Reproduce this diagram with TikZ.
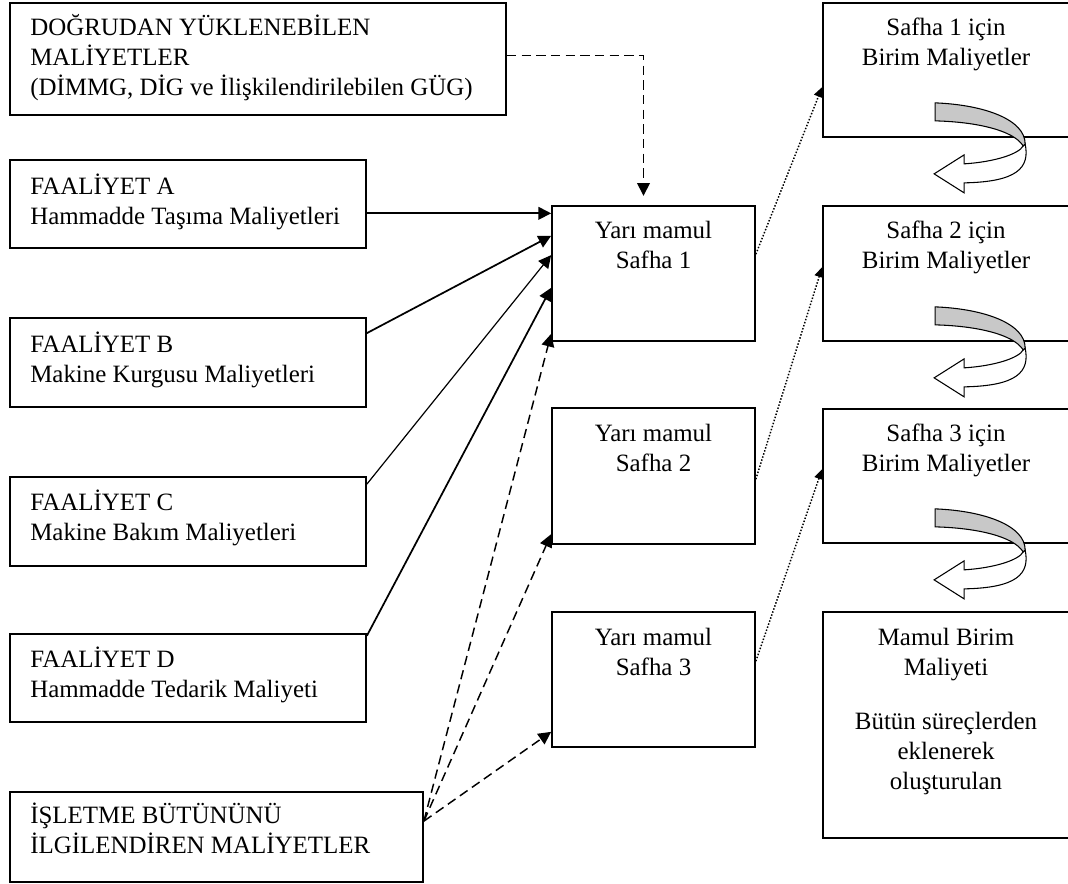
\documentclass[tikz,border=0pt]{standalone}
\usepackage{fontspec}
\setmainfont{Liberation Serif}
\usetikzlibrary{arrows.meta,fit}
\definecolor{bandgray}{RGB}{200,200,200}
% strut that fixes the height of a text block's first line
\newcommand\firstline{\rule{0pt}{18pt}}
\begin{document}
\begin{tikzpicture}[x=0.75pt,y=-0.75pt,
  box/.style={draw, line width=1.3pt, inner sep=0pt},
  txt/.style={inner sep=0pt, font=\fontsize{18.7pt}{22.5pt}\selectfont},
  ltxt/.style={txt, anchor=north west, align=left},
  ctxt/.style={txt, anchor=north, align=center},
  solidarr/.style={-{Triangle[length=9.5pt,width=9.5pt]}, line width=1.3pt},
  thinarr/.style={-{Triangle[length=9.5pt,width=9.5pt]}, line width=0.9pt},
  dasharr/.style={-{Triangle[length=9.5pt,width=9.5pt]}, line width=1.1pt, dash pattern=on 7pt off 4pt},
  dotarr/.style={-{Triangle[length=7.5pt,width=7pt]}, line width=1.1pt, dash pattern=on 1.1pt off 1.3pt},
  uturn/.pic={
    % white returning shaft with its head
    \draw[line width=0.8pt, fill=white]
      (90,6) .. controls (95,30) and (82,44) .. (29,45) -- (29,55) -- (-1,36)
      -- (29,17) -- (29,26) .. controls (60,24) and (84,16) .. (88,8) -- cycle;
    % grey ribbon entering the turn
    \draw[line width=0.8pt, fill=bandgray]
      (0,-35) .. controls (50,-33) and (90,-18) .. (90,6) -- (88,8)
      .. controls (78,-8) and (40,-16) .. (0,-17) -- cycle;
  },
]
\clip (0,0) rectangle (1068,884);

% ---- left column: cost sources
\node[box, fit={(10,3) (506,115)}]   (dy) {};
\node[box, fit={(10,160) (366,248)}] (fa) {};
\node[box, fit={(10,318) (366,407)}] (fb) {};
\node[box, fit={(10,477) (366,566)}] (fc) {};
\node[box, fit={(10,634) (366,722)}] (fd) {};
\node[box, fit={(10,792) (423,882)}] (ie) {};

\node[ltxt] (dyt) at (30,11)  {\firstline DOĞRUDAN YÜKLENEBİLEN\\MALİYETLER\\(DİMMG, DİG ve İlişkilendirilebilen GÜG)};
\node[ltxt] (fat) at (30,170) {\firstline FAALİYET A\\Hammadde Taşıma Maliyetleri};
\node[ltxt] (fbt) at (30,328) {\firstline FAALİYET B\\Makine Kurgusu Maliyetleri};
\node[ltxt] (fct) at (30,486) {\firstline FAALİYET C\\Makine Bakım Maliyetleri};
\node[ltxt] (fdt) at (30,643) {\firstline FAALİYET D\\Hammadde Tedarik Maliyeti};
\node[ltxt] (iet) at (30,799) {\firstline İŞLETME BÜTÜNÜNÜ\\İLGİLENDİREN MALİYETLER};

% ---- middle column: work-in-process stages
\node[box, fit={(552,206) (755,341)}] (s1) {};
\node[box, fit={(552,408) (755,544)}] (s2) {};
\node[box, fit={(552,612) (755,747)}] (s3) {};

\node[ctxt] (s1t) at (653.5,214) {\firstline Yarı mamul\\Safha 1};
\node[ctxt] (s2t) at (653.5,417) {\firstline Yarı mamul\\Safha 2};
\node[ctxt] (s3t) at (653.5,621) {\firstline Yarı mamul\\Safha 3};

% ---- right column: unit costs
\node[box, fit={(823,3) (1085,137)}]   (r1) {};
\node[box, fit={(823,206) (1085,341)}] (r2) {};
\node[box, fit={(823,409) (1085,543)}] (r3) {};
\node[box, fit={(823,612) (1085,838)}] (r4) {};

\node[ctxt] (r1t) at (946,11)  {\firstline Safha 1 için\\Birim Maliyetler};
\node[ctxt] (r2t) at (946,214) {\firstline Safha 2 için\\Birim Maliyetler};
\node[ctxt] (r3t) at (946,417) {\firstline Safha 3 için\\Birim Maliyetler};
\node[ctxt] (r4t) at (946,621) {\firstline Mamul Birim\\Maliyeti\\[18pt]Bütün süreçlerden\\eklenerek\\oluşturulan};

% ---- connectors into stage 1
\draw[dasharr] ([yshift=2.5pt]dy.east) -| ([xshift=-7.5pt,yshift=7pt]s1.north);
\draw[solidarr] ([yshift=-7pt]fa.east) -- ([yshift=-7pt]fa.east -| s1.west);
\draw[solidarr] ([yshift=-12pt]fb.north east) -- ([yshift=-23pt]s1.north west);
\draw[thinarr]  ([yshift=-6pt]fc.north east) -- ([yshift=-37.5pt]s1.north west);
\draw[solidarr] ([yshift=-2pt]fd.north east) -- ([yshift=-62pt]s1.north west);

% ---- company-wide costs to every stage
\draw[dasharr] ([yshift=-22.5pt]ie.north east) -- ([yshift=6pt]s1.south west);
\draw[dasharr] ([yshift=-22.5pt]ie.north east) -- ([yshift=8pt]s2.south west);
\draw[dasharr] ([yshift=-22.5pt]ie.north east) -- ([yshift=12pt]s3.south west);

% ---- stages to unit costs
\draw[dotarr] ([yshift=-36.75pt]s1.north east) -- ([yshift=-63.75pt]r1.north west);
\draw[dotarr] ([yshift=-54pt]s2.north east)    -- ([yshift=-46.5pt]r2.north west);
\draw[dotarr] ([yshift=-37.5pt]s3.north east)  -- ([yshift=-45.75pt]r3.north west);

% ---- turning arrows between unit-cost boxes
\pic at ([xshift=84.75pt]r1.south west) {uturn};
\pic at ([xshift=84.75pt]r2.south west) {uturn};
\pic at ([xshift=84.75pt]r3.south west) {uturn};
\end{tikzpicture}
\end{document}
